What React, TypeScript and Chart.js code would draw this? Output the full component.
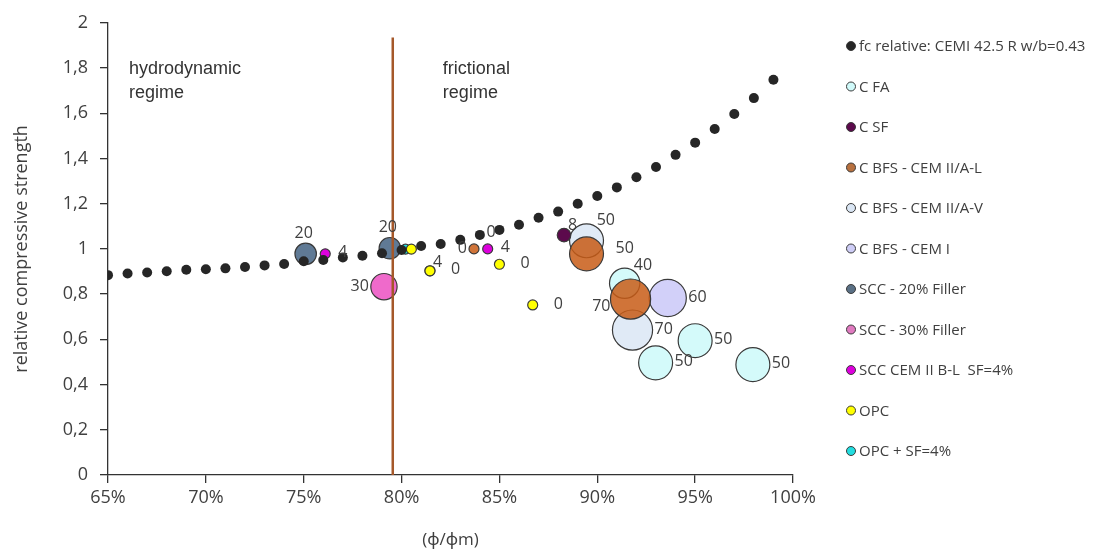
import { useEffect, useRef } from 'react';
import { Chart, registerables } from 'chart.js';

Chart.register(...registerables);

// ---------- data ----------
const xTickValues = [0.65, 0.7, 0.75, 0.8, 0.85, 0.9, 0.95, 1.0];
const xTickLabels = ['65%', '70%', '75%', '80%', '85%', '90%', '95%', '100%'];
const yTickValues = [0, 0.2, 0.4, 0.6, 0.8, 1, 1.2, 1.4, 1.6, 1.8, 2];
const yTickLabels = ['0', '0,2', '0,4', '0,6', '0,8', '1', '1,2', '1,4', '1,6', '1,8', '2'];

const fcX = [0.65, 0.66, 0.67, 0.68, 0.69, 0.7, 0.71, 0.72, 0.73, 0.74, 0.75, 0.76, 0.77, 0.78, 0.79, 0.8, 0.81, 0.82, 0.83, 0.84, 0.85, 0.86, 0.87, 0.88, 0.89, 0.9, 0.91, 0.92, 0.93, 0.94, 0.95, 0.96, 0.97, 0.98, 0.99];
const fcY = [0.884, 0.891, 0.896, 0.901, 0.908, 0.91, 0.914, 0.92, 0.927, 0.933, 0.945, 0.951, 0.962, 0.97, 0.981, 0.995, 1.013, 1.022, 1.04, 1.062, 1.084, 1.107, 1.138, 1.165, 1.2, 1.234, 1.272, 1.317, 1.362, 1.416, 1.47, 1.53, 1.597, 1.667, 1.748];

const cfaX = [0.914, 0.9298, 0.95, 0.9795];
const cfaY = [0.848, 0.496, 0.594, 0.488];
const cfaV = [40, 50, 50, 50];
const cfaPos = ['aboveRight', 'right', 'right', 'right'];

const csfX = [0.883];
const csfY = [1.061];
const csfV = [8];
const csfPos = ['aboveRight'];

const bfsALX = [0.8945, 0.917, 0.837];
const bfsALY = [0.978, 0.778, 1.0];
const bfsALV = [50, 70, 0];
const bfsALPos = ['farRight', 'lowerLeft', 'left'];

const bfsAVX = [0.8945, 0.918];
const bfsAVY = [1.036, 0.641];
const bfsAVV = [50, 70];
const bfsAVPos = ['aboveRight', 'right'];

const bfsIX = [0.936];
const bfsIY = [0.783];
const bfsIV = [60];
const bfsIPos = ['right'];

const scc20X = [0.751, 0.794];
const scc20Y = [0.978, 1.003];
const scc20V = [20, 20];
const scc20Pos = ['above', 'above'];

const scc30X = [0.791];
const scc30Y = [0.833];
const scc30V = [30];
const scc30Pos = ['left'];

const sccSfX = [0.761, 0.844];
const sccSfY = [0.978, 1.0];
const sccSfV = [4, 4];
const sccSfPos = ['right', 'right'];

const opcX = [0.805, 0.8145, 0.85, 0.867];
const opcY = [0.999, 0.903, 0.932, 0.752];
const opcV = [0, 0, 0, 0];
const opcPos = ['none', 'right', 'right', 'right'];

const opcSfX = [0.802, 0.8145];
const opcSfY = [0.999, 0.903];
const opcSfV = [4, 4];
const opcSfPos = ['none', 'aboveRight'];

const limitX = [0.7955, 0.7955];
const limitY = [0, 1.935];

const regimeTexts = [
  { x: 0.6607, y: 1.775, lines: ['hydrodynamic', 'regime'] },
  { x: 0.8211, y: 1.775, lines: ['frictional', 'regime'] },
];
const strayLabels = [{ x: 0.8434, y: 1.075, text: '0' }];

// ---------- helpers ----------
const bubbleR = (v: number) => Math.max(5, 2.4 * Math.sqrt(v));
const bubbles = (xs: number[], ys: number[], vs: number[]) =>
  xs.map((x, i) => ({ x, y: ys[i], r: bubbleR(vs[i]) }));

const TEXT = '#404040';
const EDGE = '#3a3a3a';
const FONT = "'Open Sans', 'Noto Sans', sans-serif";

const labelPlugin = {
  id: 'bubbleLabels',
  afterDatasetsDraw(chart: any) {
    const ctx = chart.ctx;
    ctx.save();
    ctx.font = `16px ${FONT}`;
    ctx.fillStyle = TEXT;
    chart.data.datasets.forEach((ds: any, di: number) => {
      if (!ds.valueLabels) return;
      const meta = chart.getDatasetMeta(di);
      const gap = ds.labelGap ?? 2;
      meta.data.forEach((el: any, i: number) => {
        const pos = ds.labelPos[i];
        if (pos === 'none') return;
        const txt = String(ds.valueLabels[i]);
        const r = el.options.radius;
        const { x, y } = el;
        ctx.textBaseline = 'middle';
        if (pos === 'right') {
          ctx.textAlign = 'left';
          ctx.fillText(txt, x + r + gap, y - 1);
        } else if (pos === 'farRight') {
          ctx.textAlign = 'left';
          ctx.fillText(txt, x + r + gap + 10, y - 5);
        } else if (pos === 'left') {
          ctx.textAlign = 'right';
          ctx.fillText(txt, x - r - gap, y);
        } else if (pos === 'lowerLeft') {
          ctx.textAlign = 'right';
          ctx.fillText(txt, x - r - gap + 2, y + 7);
        } else if (pos === 'above') {
          ctx.textAlign = 'center';
          ctx.fillText(txt, x - 2, y - r - 10);
        } else if (pos === 'aboveRight') {
          ctx.textAlign = 'left';
          ctx.fillText(txt, x + 0.6 * r, y - r - 3);
        }
      });
    });
    ctx.restore();
  },
};

const textPlugin = {
  id: 'freeTexts',
  afterDraw(chart: any) {
    const ctx = chart.ctx;
    const xs = chart.scales.x;
    const ys = chart.scales.y;
    ctx.save();
    ctx.fillStyle = '#333';
    ctx.font = `18px 'Liberation Sans', Arial, sans-serif`;
    ctx.textAlign = 'left';
    ctx.textBaseline = 'alphabetic';
    regimeTexts.forEach((t) => {
      const px = xs.getPixelForValue(t.x);
      const py = ys.getPixelForValue(t.y);
      t.lines.forEach((line, i) => ctx.fillText(line, px, py + i * 24));
    });
    ctx.font = `16px ${FONT}`;
    ctx.fillStyle = TEXT;
    ctx.textBaseline = 'middle';
    strayLabels.forEach((t) => {
      ctx.fillText(t.text, xs.getPixelForValue(t.x), ys.getPixelForValue(t.y));
    });
    ctx.restore();
  },
};

const legendPlugin = {
  id: 'sideLegend',
  afterDraw(chart: any) {
    const ctx = chart.ctx;
    ctx.save();
    ctx.font = `15px ${FONT}`;
    ctx.textBaseline = 'middle';
    ctx.textAlign = 'left';
    const items = chart.data.datasets.filter((d: any) => d.legendShow !== false);
    items.forEach((ds: any, i: number) => {
      const y = 46 + i * 40.5;
      ctx.beginPath();
      ctx.arc(851, y, 4.5, 0, Math.PI * 2);
      ctx.fillStyle = ds.legendColor || ds.backgroundColor;
      ctx.fill();
      ctx.lineWidth = 1;
      ctx.strokeStyle = EDGE;
      ctx.stroke();
      ctx.fillStyle = TEXT;
      ctx.fillText(ds.label, 859, y + 1);
    });
    ctx.restore();
  },
};

function bubbleSet(label: string, xs: number[], ys: number[], vs: number[], pos: string[], fill: string, legendColor: string, order: number, gap = 2) {
  return {
    type: 'bubble',
    label,
    data: bubbles(xs, ys, vs),
    backgroundColor: fill,
    legendColor,
    borderColor: EDGE,
    borderWidth: 1.2,
    order,
    valueLabels: vs,
    labelPos: pos,
    labelGap: gap,
  };
}

export default function App() {
  const ref = useRef<HTMLCanvasElement>(null);

  useEffect(() => {
    if (!ref.current) return;
    const datasets: any[] = [
      {
        type: 'scatter',
        label: 'fc relative: CEMI 42.5 R w/b=0.43',
        data: fcX.map((x, i) => ({ x, y: fcY[i] })),
        backgroundColor: '#262626',
        borderColor: '#262626',
        pointRadius: 5,
        pointBorderWidth: 0,
        showLine: false,
        order: 1,
      },
      bubbleSet('C FA', cfaX, cfaY, cfaV, cfaPos, 'rgba(208,250,250,0.92)', '#d0fafa', 8),
      bubbleSet('C SF', csfX, csfY, csfV, csfPos, '#5c0a4c', '#5c0a4c', 4),
      bubbleSet('C BFS - CEM II/A-L', bfsALX, bfsALY, bfsALV, bfsALPos, 'rgba(200,92,22,0.85)', '#b8713f', 5),
      bubbleSet('C BFS - CEM II/A-V', bfsAVX, bfsAVY, bfsAVV, bfsAVPos, 'rgba(218,230,244,0.85)', '#dae6f4', 6),
      bubbleSet('C BFS - CEM I', bfsIX, bfsIY, bfsIV, bfsIPos, 'rgba(206,204,248,0.92)', '#cecdf6', 7),
      bubbleSet('SCC - 20% Filler', scc20X, scc20Y, scc20V, scc20Pos, 'rgba(74,104,134,0.88)', '#5a7085', 9),
      bubbleSet('SCC - 30% Filler', scc30X, scc30Y, scc30V, scc30Pos, 'rgba(238,98,200,0.95)', '#e07ac0', 10),
      bubbleSet('SCC CEM II B-L  SF=4%', sccSfX, sccSfY, sccSfV, sccSfPos, '#dd00dd', '#dd00dd', 3, 8),
      bubbleSet('OPC', opcX, opcY, opcV, opcPos, '#ffff00', '#ffff00', 2, 16),
      bubbleSet('OPC + SF=4%', opcSfX, opcSfY, opcSfV, opcSfPos, '#22dde0', '#22dde0', 3),
      {
        type: 'line',
        label: 'limit',
        legendShow: false,
        data: limitX.map((x, i) => ({ x, y: limitY[i] })),
        borderColor: '#a5582a',
        borderWidth: 2.5,
        pointRadius: 0,
        order: 0,
      },
    ];

    const chart = new Chart(ref.current, {
      type: 'bubble',
      data: { datasets } as any,
      options: {
        responsive: false,
        animation: false,
        layout: { padding: { top: 15, right: 309, left: 0, bottom: 0 } },
        plugins: {
          legend: { display: false },
          tooltip: { enabled: false },
        },
        scales: {
          x: {
            type: 'linear',
            min: 0.65,
            max: 1.0,
            afterBuildTicks: (s: any) => {
              s.ticks = xTickValues.map((v) => ({ value: v }));
            },
            afterFit: (s: any) => {
              s.height = 78;
            },
            ticks: {
              callback: (_v: any, i: number) => xTickLabels[i],
              color: TEXT,
              font: { family: FONT, size: 18 },
              padding: 4,
              maxRotation: 0,
              autoSkip: false,
            },
            grid: { drawOnChartArea: false, drawTicks: true, tickLength: 8, color: '#333', lineWidth: 1.3 },
            border: { display: true, color: '#333', width: 1.3 },
            title: {
              display: true,
              text: '(ϕ/ϕm)',
              color: TEXT,
              font: { family: FONT, size: 17 },
              padding: { top: 0, bottom: 3 },
            },
          },
          y: {
            type: 'linear',
            min: 0,
            max: 2,
            afterBuildTicks: (s: any) => {
              s.ticks = yTickValues.map((v) => ({ value: v }));
            },
            afterFit: (s: any) => {
              s.width = 108;
            },
            ticks: {
              callback: (_v: any, i: number) => yTickLabels[i],
              color: TEXT,
              font: { family: FONT, size: 18 },
              padding: 12,
              autoSkip: false,
            },
            grid: { drawOnChartArea: false, drawTicks: true, tickLength: 8, color: '#333', lineWidth: 1.3 },
            border: { display: true, color: '#333', width: 1.3 },
            title: {
              display: true,
              text: 'relative compressive strength',
              color: TEXT,
              font: { family: FONT, size: 18 },
              padding: { top: 11, bottom: 0 },
            },
          },
        },
      } as any,
      plugins: [labelPlugin, textPlugin, legendPlugin],
    });
    return () => chart.destroy();
  }, []);

  return (
    <div style={{ position: 'fixed', left: 0, top: 0, width: 1102, height: 553, background: '#fff' }}>
      <canvas ref={ref} width={1102} height={553} style={{ display: 'block', width: 1102, height: 553 }} />
    </div>
  );
}
